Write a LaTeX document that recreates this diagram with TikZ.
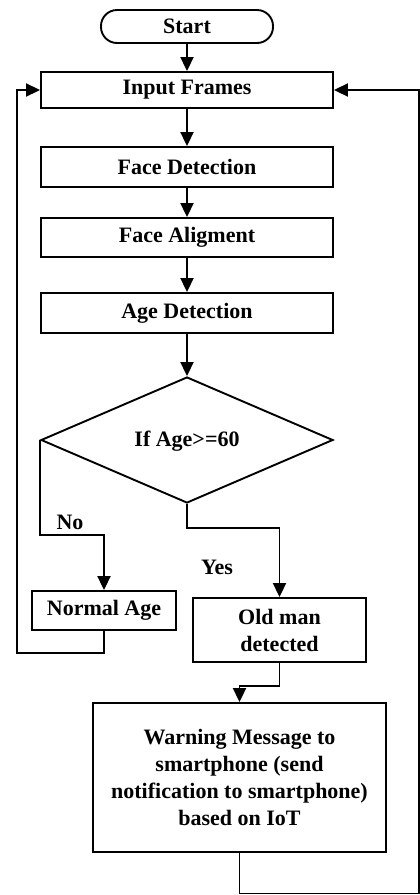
\documentclass[tikz,border=0pt]{standalone}
\usepackage{fontspec}
\setmainfont{Liberation Serif}
\usetikzlibrary{arrows.meta,shapes.geometric,calc}
\begin{document}
\begin{tikzpicture}[x=1pt,y=-1pt,
  line width=1.9pt,
  every node/.style={font=\fontsize{22}{27}\selectfont\bfseries, inner sep=0pt},
  box/.style={draw, rectangle, minimum width=292pt, minimum height=40pt, align=center},
  arr/.style={-{Triangle[length=14pt,width=13pt]}}
]
\useasboundingbox (0,0) rectangle (420,895);
\node[draw, rectangle, rounded corners=16pt, minimum width=172pt, minimum height=33pt] (start) at (187,26.5) {Start};
\node[box, minimum height=36pt] (in) at (187,90) {Input Frames};
\node[box] (fd) at (187,167) {Face Detection};
\node[box, minimum height=39pt] (fa) at (187,237.5) {Face Aligment};
\node[box] (ad) at (187,313) {Age Detection};
\node[draw, diamond, minimum width=292pt, minimum height=126pt] (dec) at (187,440) {};
\node (dect) at (187,441) {If Age>=60};
\node[box, minimum width=144pt, minimum height=39pt] (na) at (104,610.5) {Normal Age};
\node[box, minimum width=173pt, minimum height=64pt] (om) at (279.5,630) {Old man\\detected};
\node[box, minimum width=293pt, minimum height=149pt] (wm) at (239.5,777.5) {Warning Message to\\smartphone (send\\notification to smartphone)\\based on IoT};
\node (no) at (70,522) {No};
\node (yes) at (217,567) {Yes};
\coordinate (lb) at (17,653);
\coordinate (rb) at (419,893.5);

\draw[arr] (start.south) -- (in.north);
\draw[arr] (in.south) -- (fd.north);
\draw[arr] (fd.south) -- (fa.north);
\draw[arr] (fa.south) -- (ad.north);
\draw[arr] (ad.south) -- (dec.north);
\draw[arr] (dec.west) -- ++(0,95) -| (na.north);
\draw[arr] (dec.south) -- ++(0,24) -| (om.north);
\draw[arr] (na.south) |- (lb) |- (in.west);
\draw[arr] (om.south) -- ++(0,23) -| (wm.north);
\draw[arr] (wm.south) |- (rb) |- (in.east);
\end{tikzpicture}
\end{document}
